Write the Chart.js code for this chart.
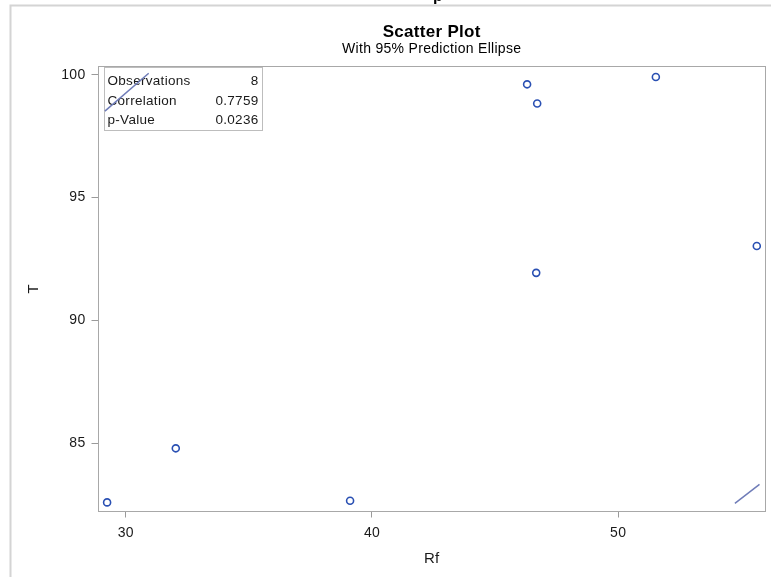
<!DOCTYPE html>
<html>
<head>
<meta charset="utf-8">
<script src="https://cdn.jsdelivr.net/npm/chart.js@4.4.1/dist/chart.umd.min.js"></script>
<style>
  html, body { margin: 0; padding: 0; background: #fff; }
  #wrap { position: relative; width: 771px; height: 577px; }
</style>
</head>
<body>
<div id="wrap"><canvas id="c" width="771" height="577"></canvas></div>
<script>
// Observations: Rf on the horizontal axis, T on the vertical axis
const rf = [29.24, 32.03, 39.11, 46.30, 46.71, 46.67, 51.53, 55.63];
const tVals = [82.60, 84.80, 82.67, 99.61, 98.83, 91.94, 99.91, 93.03];

// Visible pieces of the 95% prediction ellipse (the rest lies outside the axes)
const ellipseUpperX = [29.15, 30.93];
const ellipseUpperY = [98.52, 100.06];
const ellipseLowerX = [54.74, 55.74];
const ellipseLowerY = [82.56, 83.33];

// Axis ticks
const xTicks = [30, 40, 50];
const yTicks = [85, 90, 95, 100];

// Statistics inset
const statLabels = ['Observations', 'Correlation', 'p-Value'];
const statValues = ['8', '0.7759', '0.0236'];

const FONT = "'Liberation Sans', Arial, sans-serif";
const TEXT = '#1a1a1a';
const AXIS = '#9a9a9a';
const SPACING = '0.3px';

const toPts = (xs, ys) => xs.map((x, i) => ({ x: x, y: ys[i] }));

// Slightly wider glyph spacing for every label on the canvas
const spacing = {
  id: 'spacing',
  beforeUpdate(chart) { chart.ctx.letterSpacing = SPACING; },
  beforeDraw(chart) { chart.ctx.letterSpacing = SPACING; }
};

// Page frame, a clipped heading above it, plot frame and statistics inset
const decor = {
  id: 'decor',
  beforeDraw(chart) {
    const ctx = chart.ctx;
    ctx.save();
    ctx.fillStyle = '#fff';
    ctx.fillRect(0, 0, chart.width, chart.height);
    ctx.strokeStyle = '#d4d4d4';
    ctx.lineWidth = 2;
    ctx.beginPath();
    ctx.moveTo(10.5, chart.height);
    ctx.lineTo(10.5, 5.5);
    ctx.lineTo(chart.width, 5.5);
    ctx.stroke();
    ctx.fillStyle = '#000';
    ctx.font = 'bold 16px ' + FONT;
    ctx.textBaseline = 'alphabetic';
    ctx.fillText('p', 433, 0.5);
    ctx.restore();
  },
  beforeDatasetsDraw(chart) {
    const ctx = chart.ctx;
    const a = chart.chartArea;
    ctx.save();
    // statistics box
    const bx = a.left + 6, by = a.top + 1.5, bw = 158, bh = 63;
    ctx.fillStyle = '#fff';
    ctx.fillRect(bx, by, bw, bh);
    ctx.strokeStyle = '#bdbdbd';
    ctx.lineWidth = 1;
    ctx.strokeRect(Math.round(bx) + 0.5, Math.round(by) + 0.5, bw, bh);
    ctx.fillStyle = TEXT;
    ctx.font = '13.5px ' + FONT;
    ctx.textBaseline = 'middle';
    statLabels.forEach((s, i) => {
      const y = by + 14 + i * 19.5;
      ctx.textAlign = 'left';
      ctx.fillText(s, bx + 4, y);
      ctx.textAlign = 'right';
      ctx.fillText(statValues[i], bx + bw - 3, y);
    });
    ctx.restore();
  },
  afterDraw(chart) {
    const ctx = chart.ctx;
    const a = chart.chartArea;
    ctx.save();
    ctx.strokeStyle = '#a8a8a8';
    ctx.lineWidth = 1;
    ctx.strokeRect(Math.round(a.left) + 0.5, Math.round(a.top) + 0.5,
      Math.round(a.right - a.left) - 1, Math.round(a.bottom - a.top) - 1);
    ctx.restore();
  }
};

new Chart(document.getElementById('c'), {
  type: 'scatter',
  data: {
    datasets: [
      {
        label: 'T',
        data: toPts(rf, tVals),
        pointStyle: 'circle',
        pointRadius: 3.5,
        pointHoverRadius: 3.5,
        borderWidth: 1.6,
        borderColor: '#2a50b3',
        backgroundColor: 'rgba(255,255,255,0)'
      },
      {
        label: 'ellipse-upper',
        type: 'line',
        data: toPts(ellipseUpperX, ellipseUpperY),
        borderColor: '#6f7cb8',
        borderWidth: 1.5,
        pointRadius: 0,
        tension: 0,
        fill: false
      },
      {
        label: 'ellipse-lower',
        type: 'line',
        data: toPts(ellipseLowerX, ellipseLowerY),
        borderColor: '#6f7cb8',
        borderWidth: 1.5,
        pointRadius: 0,
        tension: 0,
        fill: false
      }
    ]
  },
  options: {
    responsive: false,
    animation: false,
    events: [],
    layout: { padding: { top: 0, right: 4, left: 0, bottom: 0 } },
    plugins: {
      legend: { display: false },
      tooltip: { enabled: false },
      title: {
        display: true,
        text: 'Scatter Plot',
        fullSize: false,
        color: '#000',
        font: { family: FONT, size: 17, weight: 'bold', lineHeight: 1.2 },
        padding: { top: 22, bottom: 0 }
      },
      subtitle: {
        display: true,
        text: 'With 95% Prediction Ellipse',
        fullSize: false,
        color: '#000',
        font: { family: FONT, size: 14, lineHeight: 1.0 },
        padding: { top: 0, bottom: 9.5 }
      }
    },
    scales: {
      x: {
        type: 'linear',
        min: 28.85,
        max: 56.0,
        afterBuildTicks: (s) => { s.ticks = xTicks.map(v => ({ value: v })); },
        afterFit: (s) => { s.height = 65.5; },
        grid: { display: true, drawOnChartArea: false, drawTicks: true, tickLength: 6, color: AXIS },
        border: { display: false },
        ticks: { color: TEXT, font: { family: FONT, size: 14 }, padding: 7, maxRotation: 0 },
        title: { display: true, text: 'Rf', color: TEXT, font: { family: FONT, size: 15 }, padding: { top: 0, bottom: 9.5 } }
      },
      y: {
        type: 'linear',
        min: 82.23,
        max: 100.36,
        afterBuildTicks: (s) => { s.ticks = yTicks.map(v => ({ value: v })); },
        afterFit: (s) => { s.width = 97.5; },
        grid: { display: true, drawOnChartArea: false, drawTicks: true, tickLength: 6, color: AXIS },
        border: { display: false },
        ticks: { color: TEXT, font: { family: FONT, size: 14 }, padding: 6 },
        title: { display: true, text: 'T', color: TEXT, font: { family: FONT, size: 15 }, padding: { top: 25, bottom: 0 } }
      }
    }
  },
  plugins: [spacing, decor]
});
</script>
</body>
</html>
